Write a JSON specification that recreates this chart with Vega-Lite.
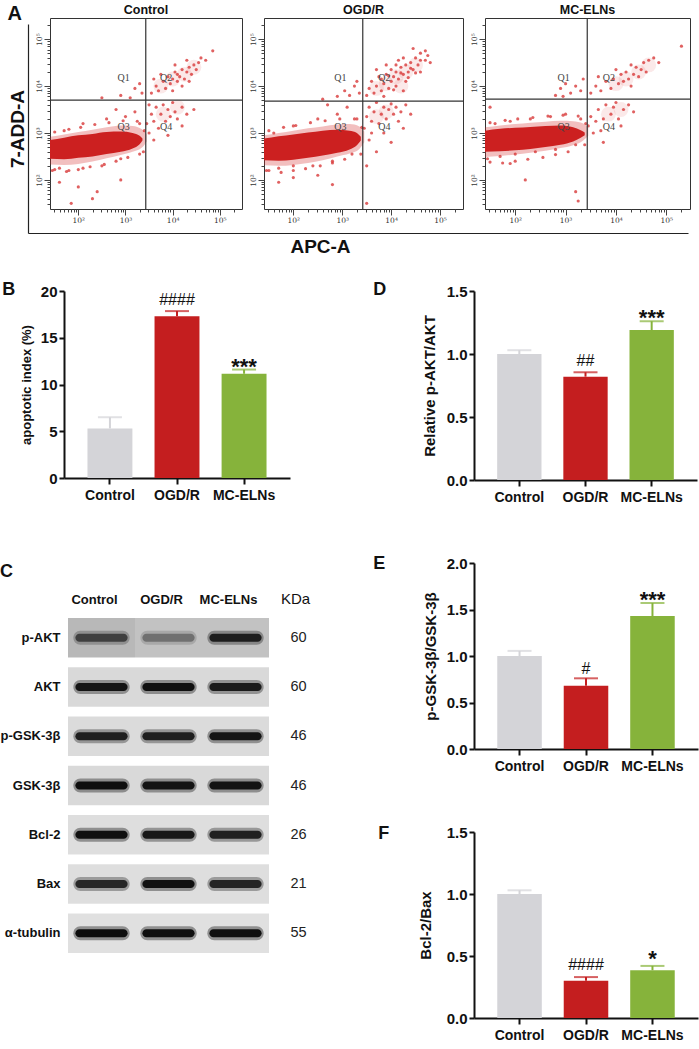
{
  "$schema": "https://vega.github.io/schema/vega-lite/v6.json",
  "background": "white",
  "padding": {"left": 0, "top": 3, "right": 0, "bottom": 0},
  "config": {
    "view": {"stroke": null},
    "font": "Liberation Sans",
    "axis": {"labelFont": "Liberation Sans", "titleFont": "Liberation Sans", "grid": false, "labelOverlap": false},
    "title": {"font": "Liberation Sans", "color": "#111"}
  },
  "datasets": {
    "env": [
      {"g": "Control", "band": "outer", "x": 1.4, "lo": 2.33, "hi": 2.92}, {"g": "Control", "band": "outer", "x": 1.7, "lo": 2.32, "hi": 2.97},
      {"g": "Control", "band": "outer", "x": 2.0, "lo": 2.34, "hi": 3.02}, {"g": "Control", "band": "outer", "x": 2.3, "lo": 2.39, "hi": 3.07},
      {"g": "Control", "band": "outer", "x": 2.6, "lo": 2.46, "hi": 3.12}, {"g": "Control", "band": "outer", "x": 2.9, "lo": 2.53, "hi": 3.16},
      {"g": "Control", "band": "outer", "x": 3.15, "lo": 2.6, "hi": 3.15}, {"g": "Control", "band": "outer", "x": 3.35, "lo": 2.69, "hi": 3.08},
      {"g": "Control", "band": "outer", "x": 3.45, "lo": 2.82, "hi": 2.98},
      {"g": "Control", "band": "inner", "x": 1.4, "lo": 2.45, "hi": 2.85}, {"g": "Control", "band": "inner", "x": 1.7, "lo": 2.44, "hi": 2.9},
      {"g": "Control", "band": "inner", "x": 2.0, "lo": 2.47, "hi": 2.95}, {"g": "Control", "band": "inner", "x": 2.3, "lo": 2.5, "hi": 2.98},
      {"g": "Control", "band": "inner", "x": 2.6, "lo": 2.55, "hi": 3.02}, {"g": "Control", "band": "inner", "x": 2.9, "lo": 2.6, "hi": 3.03},
      {"g": "Control", "band": "inner", "x": 3.15, "lo": 2.67, "hi": 3.0}, {"g": "Control", "band": "inner", "x": 3.3, "lo": 2.76, "hi": 2.94},
      {"g": "Control", "band": "inner", "x": 3.36, "lo": 2.84, "hi": 2.88},
      {"g": "OGD/R", "band": "outer", "x": 1.4, "lo": 2.31, "hi": 2.95}, {"g": "OGD/R", "band": "outer", "x": 1.7, "lo": 2.3, "hi": 3.0},
      {"g": "OGD/R", "band": "outer", "x": 2.0, "lo": 2.32, "hi": 3.05}, {"g": "OGD/R", "band": "outer", "x": 2.3, "lo": 2.36, "hi": 3.1},
      {"g": "OGD/R", "band": "outer", "x": 2.6, "lo": 2.42, "hi": 3.14}, {"g": "OGD/R", "band": "outer", "x": 2.9, "lo": 2.5, "hi": 3.18},
      {"g": "OGD/R", "band": "outer", "x": 3.15, "lo": 2.56, "hi": 3.19}, {"g": "OGD/R", "band": "outer", "x": 3.35, "lo": 2.66, "hi": 3.14},
      {"g": "OGD/R", "band": "outer", "x": 3.45, "lo": 2.8, "hi": 3.03},
      {"g": "OGD/R", "band": "inner", "x": 1.4, "lo": 2.42, "hi": 2.88}, {"g": "OGD/R", "band": "inner", "x": 1.7, "lo": 2.41, "hi": 2.93},
      {"g": "OGD/R", "band": "inner", "x": 2.0, "lo": 2.43, "hi": 2.97}, {"g": "OGD/R", "band": "inner", "x": 2.3, "lo": 2.47, "hi": 3.01},
      {"g": "OGD/R", "band": "inner", "x": 2.6, "lo": 2.52, "hi": 3.05}, {"g": "OGD/R", "band": "inner", "x": 2.9, "lo": 2.58, "hi": 3.07},
      {"g": "OGD/R", "band": "inner", "x": 3.15, "lo": 2.65, "hi": 3.05}, {"g": "OGD/R", "band": "inner", "x": 3.3, "lo": 2.74, "hi": 3.0},
      {"g": "OGD/R", "band": "inner", "x": 3.38, "lo": 2.84, "hi": 2.92},
      {"g": "MC-ELNs", "band": "outer", "x": 1.4, "lo": 2.49, "hi": 3.12}, {"g": "MC-ELNs", "band": "outer", "x": 1.7, "lo": 2.51, "hi": 3.16},
      {"g": "MC-ELNs", "band": "outer", "x": 2.0, "lo": 2.54, "hi": 3.19}, {"g": "MC-ELNs", "band": "outer", "x": 2.3, "lo": 2.58, "hi": 3.22},
      {"g": "MC-ELNs", "band": "outer", "x": 2.6, "lo": 2.62, "hi": 3.24}, {"g": "MC-ELNs", "band": "outer", "x": 2.9, "lo": 2.68, "hi": 3.26},
      {"g": "MC-ELNs", "band": "outer", "x": 3.15, "lo": 2.74, "hi": 3.25}, {"g": "MC-ELNs", "band": "outer", "x": 3.35, "lo": 2.84, "hi": 3.2},
      {"g": "MC-ELNs", "band": "outer", "x": 3.45, "lo": 2.94, "hi": 3.1},
      {"g": "MC-ELNs", "band": "inner", "x": 1.4, "lo": 2.6, "hi": 3.05}, {"g": "MC-ELNs", "band": "inner", "x": 1.7, "lo": 2.61, "hi": 3.09},
      {"g": "MC-ELNs", "band": "inner", "x": 2.0, "lo": 2.63, "hi": 3.11}, {"g": "MC-ELNs", "band": "inner", "x": 2.3, "lo": 2.66, "hi": 3.13},
      {"g": "MC-ELNs", "band": "inner", "x": 2.6, "lo": 2.7, "hi": 3.15}, {"g": "MC-ELNs", "band": "inner", "x": 2.9, "lo": 2.75, "hi": 3.16},
      {"g": "MC-ELNs", "band": "inner", "x": 3.15, "lo": 2.82, "hi": 3.12}, {"g": "MC-ELNs", "band": "inner", "x": 3.3, "lo": 2.9, "hi": 3.06},
      {"g": "MC-ELNs", "band": "inner", "x": 3.38, "lo": 2.95, "hi": 3.01}
    ],
    "halo": [
      {"g": "Control", "x": 4.0, "y": 4.15}, {"g": "Control", "x": 4.25, "y": 4.25}, {"g": "Control", "x": 4.45, "y": 4.4},
      {"g": "Control", "x": 3.8, "y": 3.4}, {"g": "Control", "x": 3.75, "y": 4.0}, {"g": "Control", "x": 4.1, "y": 3.55},
      {"g": "OGD/R", "x": 3.9, "y": 4.05}, {"g": "OGD/R", "x": 4.1, "y": 4.2}, {"g": "OGD/R", "x": 4.3, "y": 4.3},
      {"g": "OGD/R", "x": 4.5, "y": 4.45}, {"g": "OGD/R", "x": 4.2, "y": 4.0}, {"g": "OGD/R", "x": 3.7, "y": 3.35},
      {"g": "OGD/R", "x": 3.9, "y": 3.45}, {"g": "OGD/R", "x": 3.7, "y": 3.95},
      {"g": "MC-ELNs", "x": 4.2, "y": 4.15}, {"g": "MC-ELNs", "x": 4.45, "y": 4.3}, {"g": "MC-ELNs", "x": 4.0, "y": 4.05},
      {"g": "MC-ELNs", "x": 3.85, "y": 3.4}, {"g": "MC-ELNs", "x": 4.65, "y": 4.45}, {"g": "MC-ELNs", "x": 4.1, "y": 3.5}
    ],
    "dots": [
      {"g": "Control", "x": 3.55, "y": 3.85}, {"g": "Control", "x": 3.65, "y": 4.0}, {"g": "Control", "x": 3.7, "y": 3.9},
      {"g": "Control", "x": 3.8, "y": 4.1}, {"g": "Control", "x": 3.85, "y": 3.95}, {"g": "Control", "x": 3.9, "y": 4.2},
      {"g": "Control", "x": 3.95, "y": 4.05}, {"g": "Control", "x": 4.0, "y": 4.15}, {"g": "Control", "x": 4.05, "y": 4.3},
      {"g": "Control", "x": 4.1, "y": 4.1}, {"g": "Control", "x": 4.1, "y": 4.25}, {"g": "Control", "x": 4.15, "y": 4.2},
      {"g": "Control", "x": 4.2, "y": 4.35}, {"g": "Control", "x": 4.25, "y": 4.15}, {"g": "Control", "x": 4.3, "y": 4.3},
      {"g": "Control", "x": 4.35, "y": 4.4}, {"g": "Control", "x": 4.4, "y": 4.25}, {"g": "Control", "x": 4.45, "y": 4.45},
      {"g": "Control", "x": 4.5, "y": 4.35}, {"g": "Control", "x": 4.55, "y": 4.5}, {"g": "Control", "x": 4.6, "y": 4.6},
      {"g": "Control", "x": 4.7, "y": 4.55}, {"g": "Control", "x": 4.85, "y": 4.75}, {"g": "Control", "x": 3.6, "y": 4.15},
      {"g": "Control", "x": 3.75, "y": 4.25}, {"g": "Control", "x": 4.0, "y": 3.9}, {"g": "Control", "x": 4.2, "y": 4.0},
      {"g": "Control", "x": 4.35, "y": 4.1}, {"g": "Control", "x": 4.05, "y": 4.45}, {"g": "Control", "x": 4.3, "y": 4.55},
      {"g": "Control", "x": 3.45, "y": 3.2}, {"g": "Control", "x": 3.5, "y": 3.0}, {"g": "Control", "x": 3.55, "y": 3.4},
      {"g": "Control", "x": 3.6, "y": 3.25}, {"g": "Control", "x": 3.65, "y": 3.55}, {"g": "Control", "x": 3.7, "y": 3.1},
      {"g": "Control", "x": 3.75, "y": 3.4}, {"g": "Control", "x": 3.8, "y": 3.6}, {"g": "Control", "x": 3.85, "y": 3.25},
      {"g": "Control", "x": 3.9, "y": 3.5}, {"g": "Control", "x": 3.95, "y": 3.35}, {"g": "Control", "x": 4.0, "y": 3.65},
      {"g": "Control", "x": 4.05, "y": 3.45}, {"g": "Control", "x": 4.1, "y": 3.3}, {"g": "Control", "x": 4.2, "y": 3.55},
      {"g": "Control", "x": 4.3, "y": 3.4}, {"g": "Control", "x": 4.45, "y": 3.5}, {"g": "Control", "x": 3.6, "y": 2.85},
      {"g": "Control", "x": 3.9, "y": 2.95}, {"g": "Control", "x": 4.2, "y": 3.15}, {"g": "Control", "x": 3.5, "y": 3.6},
      {"g": "Control", "x": 2.9, "y": 3.8}, {"g": "Control", "x": 3.1, "y": 3.75}, {"g": "Control", "x": 3.2, "y": 3.95},
      {"g": "Control", "x": 3.35, "y": 3.85}, {"g": "Control", "x": 2.5, "y": 3.75}, {"g": "Control", "x": 3.3, "y": 4.05},
      {"g": "Control", "x": 1.45, "y": 2.2}, {"g": "Control", "x": 1.6, "y": 2.25}, {"g": "Control", "x": 1.8, "y": 2.2},
      {"g": "Control", "x": 2.1, "y": 2.25}, {"g": "Control", "x": 2.5, "y": 2.3}, {"g": "Control", "x": 2.9, "y": 2.45},
      {"g": "Control", "x": 3.3, "y": 2.55}, {"g": "Control", "x": 1.7, "y": 3.05}, {"g": "Control", "x": 2.1, "y": 3.2},
      {"g": "Control", "x": 2.6, "y": 3.3}, {"g": "Control", "x": 3.0, "y": 3.35}, {"g": "Control", "x": 3.2, "y": 3.45},
      {"g": "Control", "x": 2.8, "y": 3.5}, {"g": "Control", "x": 3.3, "y": 3.2},
      {"g": "Control", "x": 2.0, "y": 1.85}, {"g": "Control", "x": 2.9, "y": 2.0}, {"g": "Control", "x": 1.6, "y": 1.95},
      {"g": "Control", "x": 2.3, "y": 1.6}, {"g": "Control", "x": 1.85, "y": 1.5}, {"g": "Control", "x": 2.4, "y": 1.75},
      {"g": "Control", "x": 1.5, "y": 2.22}, {"g": "Control", "x": 1.75, "y": 2.18}, {"g": "Control", "x": 2.0, "y": 2.22},
      {"g": "Control", "x": 2.25, "y": 2.28}, {"g": "Control", "x": 2.55, "y": 2.33}, {"g": "Control", "x": 2.8, "y": 2.4},
      {"g": "Control", "x": 3.05, "y": 2.48}, {"g": "Control", "x": 1.5, "y": 3.02}, {"g": "Control", "x": 1.8, "y": 3.08},
      {"g": "Control", "x": 2.05, "y": 3.12}, {"g": "Control", "x": 2.35, "y": 3.18}, {"g": "Control", "x": 2.65, "y": 3.22},
      {"g": "Control", "x": 2.95, "y": 3.26}, {"g": "Control", "x": 3.25, "y": 3.25}, {"g": "Control", "x": 3.4, "y": 3.05},
      {"g": "Control", "x": 3.38, "y": 2.6},
      {"g": "OGD/R", "x": 3.5, "y": 3.8}, {"g": "OGD/R", "x": 3.55, "y": 3.95}, {"g": "OGD/R", "x": 3.6, "y": 4.1},
      {"g": "OGD/R", "x": 3.65, "y": 3.85}, {"g": "OGD/R", "x": 3.7, "y": 4.0}, {"g": "OGD/R", "x": 3.75, "y": 4.2},
      {"g": "OGD/R", "x": 3.8, "y": 3.9}, {"g": "OGD/R", "x": 3.85, "y": 4.05}, {"g": "OGD/R", "x": 3.9, "y": 4.25},
      {"g": "OGD/R", "x": 3.95, "y": 3.95}, {"g": "OGD/R", "x": 4.0, "y": 4.1}, {"g": "OGD/R", "x": 4.0, "y": 4.35},
      {"g": "OGD/R", "x": 4.05, "y": 4.2}, {"g": "OGD/R", "x": 4.1, "y": 4.0}, {"g": "OGD/R", "x": 4.1, "y": 4.3},
      {"g": "OGD/R", "x": 4.15, "y": 4.15}, {"g": "OGD/R", "x": 4.2, "y": 4.4}, {"g": "OGD/R", "x": 4.25, "y": 4.25},
      {"g": "OGD/R", "x": 4.3, "y": 4.1}, {"g": "OGD/R", "x": 4.3, "y": 4.45}, {"g": "OGD/R", "x": 4.35, "y": 4.3},
      {"g": "OGD/R", "x": 4.4, "y": 4.5}, {"g": "OGD/R", "x": 4.45, "y": 4.35}, {"g": "OGD/R", "x": 4.5, "y": 4.6},
      {"g": "OGD/R", "x": 4.55, "y": 4.45}, {"g": "OGD/R", "x": 4.6, "y": 4.7}, {"g": "OGD/R", "x": 4.7, "y": 4.55},
      {"g": "OGD/R", "x": 4.75, "y": 4.65}, {"g": "OGD/R", "x": 4.6, "y": 4.3}, {"g": "OGD/R", "x": 3.9, "y": 4.45},
      {"g": "OGD/R", "x": 4.15, "y": 4.55}, {"g": "OGD/R", "x": 4.45, "y": 4.8}, {"g": "OGD/R", "x": 3.7, "y": 4.35},
      {"g": "OGD/R", "x": 4.25, "y": 3.9}, {"g": "OGD/R", "x": 3.85, "y": 3.78},
      {"g": "OGD/R", "x": 3.95, "y": 4.22}, {"g": "OGD/R", "x": 4.05, "y": 3.92}, {"g": "OGD/R", "x": 4.2, "y": 4.28},
      {"g": "OGD/R", "x": 4.35, "y": 4.18}, {"g": "OGD/R", "x": 4.4, "y": 4.38}, {"g": "OGD/R", "x": 4.5, "y": 4.28},
      {"g": "OGD/R", "x": 4.6, "y": 4.55}, {"g": "OGD/R", "x": 4.25, "y": 4.6}, {"g": "OGD/R", "x": 4.1, "y": 4.45},
      {"g": "OGD/R", "x": 3.8, "y": 4.15}, {"g": "OGD/R", "x": 4.7, "y": 4.75}, {"g": "OGD/R", "x": 4.8, "y": 4.5},
      {"g": "OGD/R", "x": 3.45, "y": 3.1}, {"g": "OGD/R", "x": 3.5, "y": 3.35}, {"g": "OGD/R", "x": 3.55, "y": 3.55},
      {"g": "OGD/R", "x": 3.6, "y": 3.0}, {"g": "OGD/R", "x": 3.6, "y": 3.25}, {"g": "OGD/R", "x": 3.65, "y": 3.45},
      {"g": "OGD/R", "x": 3.7, "y": 3.65}, {"g": "OGD/R", "x": 3.75, "y": 3.2}, {"g": "OGD/R", "x": 3.8, "y": 3.4},
      {"g": "OGD/R", "x": 3.85, "y": 3.55}, {"g": "OGD/R", "x": 3.9, "y": 3.3}, {"g": "OGD/R", "x": 3.95, "y": 3.5},
      {"g": "OGD/R", "x": 4.0, "y": 3.62}, {"g": "OGD/R", "x": 4.05, "y": 3.4}, {"g": "OGD/R", "x": 4.1, "y": 3.55},
      {"g": "OGD/R", "x": 4.15, "y": 3.25}, {"g": "OGD/R", "x": 4.2, "y": 3.45}, {"g": "OGD/R", "x": 4.3, "y": 3.6},
      {"g": "OGD/R", "x": 4.4, "y": 3.4}, {"g": "OGD/R", "x": 3.55, "y": 2.85}, {"g": "OGD/R", "x": 3.85, "y": 3.0},
      {"g": "OGD/R", "x": 4.25, "y": 3.1}, {"g": "OGD/R", "x": 3.7, "y": 2.6}, {"g": "OGD/R", "x": 4.0, "y": 2.8},
      {"g": "OGD/R", "x": 3.5, "y": 2.3},
      {"g": "OGD/R", "x": 2.9, "y": 3.78}, {"g": "OGD/R", "x": 3.05, "y": 3.9}, {"g": "OGD/R", "x": 3.15, "y": 3.8},
      {"g": "OGD/R", "x": 3.25, "y": 4.0}, {"g": "OGD/R", "x": 3.35, "y": 3.85}, {"g": "OGD/R", "x": 2.6, "y": 3.72},
      {"g": "OGD/R", "x": 3.3, "y": 4.1},
      {"g": "OGD/R", "x": 1.45, "y": 2.2}, {"g": "OGD/R", "x": 1.7, "y": 2.25}, {"g": "OGD/R", "x": 2.0, "y": 2.3},
      {"g": "OGD/R", "x": 2.4, "y": 2.3}, {"g": "OGD/R", "x": 2.8, "y": 2.4}, {"g": "OGD/R", "x": 3.2, "y": 2.55},
      {"g": "OGD/R", "x": 1.6, "y": 3.0}, {"g": "OGD/R", "x": 2.0, "y": 3.15}, {"g": "OGD/R", "x": 2.5, "y": 3.3},
      {"g": "OGD/R", "x": 2.9, "y": 3.4}, {"g": "OGD/R", "x": 3.1, "y": 3.55}, {"g": "OGD/R", "x": 3.3, "y": 3.3},
      {"g": "OGD/R", "x": 2.7, "y": 3.6},
      {"g": "OGD/R", "x": 2.0, "y": 2.05}, {"g": "OGD/R", "x": 2.8, "y": 1.9}, {"g": "OGD/R", "x": 3.5, "y": 1.5},
      {"g": "OGD/R", "x": 1.7, "y": 1.95}, {"g": "OGD/R", "x": 2.5, "y": 2.1},
      {"g": "OGD/R", "x": 1.5, "y": 2.2}, {"g": "OGD/R", "x": 1.75, "y": 2.16}, {"g": "OGD/R", "x": 2.0, "y": 2.2},
      {"g": "OGD/R", "x": 2.25, "y": 2.24}, {"g": "OGD/R", "x": 2.55, "y": 2.3}, {"g": "OGD/R", "x": 2.8, "y": 2.36},
      {"g": "OGD/R", "x": 3.05, "y": 2.44}, {"g": "OGD/R", "x": 1.5, "y": 3.05}, {"g": "OGD/R", "x": 1.8, "y": 3.12},
      {"g": "OGD/R", "x": 2.05, "y": 3.16}, {"g": "OGD/R", "x": 2.35, "y": 3.22}, {"g": "OGD/R", "x": 2.65, "y": 3.26},
      {"g": "OGD/R", "x": 2.95, "y": 3.3}, {"g": "OGD/R", "x": 3.25, "y": 3.3}, {"g": "OGD/R", "x": 3.4, "y": 3.12},
      {"g": "OGD/R", "x": 3.38, "y": 2.55},
      {"g": "MC-ELNs", "x": 3.5, "y": 3.85}, {"g": "MC-ELNs", "x": 3.6, "y": 4.0}, {"g": "MC-ELNs", "x": 3.7, "y": 3.9},
      {"g": "MC-ELNs", "x": 3.8, "y": 4.1}, {"g": "MC-ELNs", "x": 3.9, "y": 3.95}, {"g": "MC-ELNs", "x": 3.95, "y": 4.15},
      {"g": "MC-ELNs", "x": 4.05, "y": 4.05}, {"g": "MC-ELNs", "x": 4.1, "y": 4.25}, {"g": "MC-ELNs", "x": 4.15, "y": 4.1},
      {"g": "MC-ELNs", "x": 4.2, "y": 4.3}, {"g": "MC-ELNs", "x": 4.25, "y": 4.15}, {"g": "MC-ELNs", "x": 4.3, "y": 4.0},
      {"g": "MC-ELNs", "x": 4.35, "y": 4.25}, {"g": "MC-ELNs", "x": 4.4, "y": 4.4}, {"g": "MC-ELNs", "x": 4.45, "y": 4.2},
      {"g": "MC-ELNs", "x": 4.5, "y": 4.35}, {"g": "MC-ELNs", "x": 4.55, "y": 4.5}, {"g": "MC-ELNs", "x": 4.6, "y": 4.3},
      {"g": "MC-ELNs", "x": 4.65, "y": 4.55}, {"g": "MC-ELNs", "x": 4.75, "y": 4.6}, {"g": "MC-ELNs", "x": 4.85, "y": 4.5},
      {"g": "MC-ELNs", "x": 4.0, "y": 4.35}, {"g": "MC-ELNs", "x": 4.3, "y": 4.45}, {"g": "MC-ELNs", "x": 3.65, "y": 4.2},
      {"g": "MC-ELNs", "x": 5.3, "y": 4.85},
      {"g": "MC-ELNs", "x": 3.45, "y": 3.15}, {"g": "MC-ELNs", "x": 3.5, "y": 3.35}, {"g": "MC-ELNs", "x": 3.6, "y": 3.25},
      {"g": "MC-ELNs", "x": 3.65, "y": 3.5}, {"g": "MC-ELNs", "x": 3.75, "y": 3.3}, {"g": "MC-ELNs", "x": 3.8, "y": 3.6},
      {"g": "MC-ELNs", "x": 3.9, "y": 3.4}, {"g": "MC-ELNs", "x": 3.95, "y": 3.55}, {"g": "MC-ELNs", "x": 4.0, "y": 3.65},
      {"g": "MC-ELNs", "x": 4.05, "y": 3.3}, {"g": "MC-ELNs", "x": 4.15, "y": 3.5}, {"g": "MC-ELNs", "x": 4.25, "y": 3.6},
      {"g": "MC-ELNs", "x": 4.35, "y": 3.45}, {"g": "MC-ELNs", "x": 3.55, "y": 3.0}, {"g": "MC-ELNs", "x": 3.7, "y": 3.05},
      {"g": "MC-ELNs", "x": 4.1, "y": 3.15}, {"g": "MC-ELNs", "x": 3.75, "y": 2.8},
      {"g": "MC-ELNs", "x": 2.8, "y": 3.8}, {"g": "MC-ELNs", "x": 2.9, "y": 3.95}, {"g": "MC-ELNs", "x": 3.0, "y": 4.05},
      {"g": "MC-ELNs", "x": 3.1, "y": 3.85}, {"g": "MC-ELNs", "x": 3.2, "y": 4.0}, {"g": "MC-ELNs", "x": 3.3, "y": 3.9},
      {"g": "MC-ELNs", "x": 3.35, "y": 4.15}, {"g": "MC-ELNs", "x": 2.95, "y": 3.78},
      {"g": "MC-ELNs", "x": 1.45, "y": 2.45}, {"g": "MC-ELNs", "x": 1.7, "y": 2.5}, {"g": "MC-ELNs", "x": 2.0, "y": 2.55},
      {"g": "MC-ELNs", "x": 2.4, "y": 2.6}, {"g": "MC-ELNs", "x": 2.8, "y": 2.65}, {"g": "MC-ELNs", "x": 3.2, "y": 2.75},
      {"g": "MC-ELNs", "x": 1.6, "y": 3.2}, {"g": "MC-ELNs", "x": 1.9, "y": 3.25}, {"g": "MC-ELNs", "x": 2.3, "y": 3.3},
      {"g": "MC-ELNs", "x": 2.7, "y": 3.35}, {"g": "MC-ELNs", "x": 3.0, "y": 3.4}, {"g": "MC-ELNs", "x": 3.3, "y": 3.3},
      {"g": "MC-ELNs", "x": 1.5, "y": 3.55},
      {"g": "MC-ELNs", "x": 2.2, "y": 2.0}, {"g": "MC-ELNs", "x": 3.2, "y": 1.75}, {"g": "MC-ELNs", "x": 1.9, "y": 2.35},
      {"g": "MC-ELNs", "x": 3.25, "y": 1.55},
      {"g": "MC-ELNs", "x": 1.5, "y": 2.38}, {"g": "MC-ELNs", "x": 1.75, "y": 2.36}, {"g": "MC-ELNs", "x": 2.0, "y": 2.4},
      {"g": "MC-ELNs", "x": 2.25, "y": 2.44}, {"g": "MC-ELNs", "x": 2.55, "y": 2.48}, {"g": "MC-ELNs", "x": 2.8, "y": 2.54},
      {"g": "MC-ELNs", "x": 3.05, "y": 2.6}, {"g": "MC-ELNs", "x": 1.5, "y": 3.22}, {"g": "MC-ELNs", "x": 1.8, "y": 3.27},
      {"g": "MC-ELNs", "x": 2.05, "y": 3.3}, {"g": "MC-ELNs", "x": 2.35, "y": 3.33}, {"g": "MC-ELNs", "x": 2.65, "y": 3.36},
      {"g": "MC-ELNs", "x": 2.95, "y": 3.38}, {"g": "MC-ELNs", "x": 3.25, "y": 3.36}, {"g": "MC-ELNs", "x": 3.4, "y": 3.2},
      {"g": "MC-ELNs", "x": 3.38, "y": 2.75}
    ],
    "gates": [
      {"g": "Control", "gx": 3.43, "gy": 3.7},
      {"g": "OGD/R", "gx": 3.42, "gy": 3.68},
      {"g": "MC-ELNs", "gx": 3.43, "gy": 3.72}
    ],
    "quads": [
      {"q": "Q1", "x": 2.96, "y": 4.17}, {"q": "Q2", "x": 3.86, "y": 4.17},
      {"q": "Q3", "x": 2.96, "y": 3.12}, {"q": "Q4", "x": 3.86, "y": 3.12}
    ],
    "blot": [
      {"protein": "p-AKT", "group": "Control", "density": 0.6, "bg": 0.28},
      {"protein": "p-AKT", "group": "OGD/R", "density": 0.35, "bg": 0.24},
      {"protein": "p-AKT", "group": "MC-ELNs", "density": 0.85, "bg": 0.24},
      {"protein": "AKT", "group": "Control", "density": 0.92, "bg": 0.15},
      {"protein": "AKT", "group": "OGD/R", "density": 0.95, "bg": 0.15},
      {"protein": "AKT", "group": "MC-ELNs", "density": 0.88, "bg": 0.15},
      {"protein": "p-GSK-3β", "group": "Control", "density": 0.85, "bg": 0.14},
      {"protein": "p-GSK-3β", "group": "OGD/R", "density": 0.85, "bg": 0.14},
      {"protein": "p-GSK-3β", "group": "MC-ELNs", "density": 0.92, "bg": 0.14},
      {"protein": "GSK-3β", "group": "Control", "density": 0.97, "bg": 0.15},
      {"protein": "GSK-3β", "group": "OGD/R", "density": 0.93, "bg": 0.15},
      {"protein": "GSK-3β", "group": "MC-ELNs", "density": 0.93, "bg": 0.15},
      {"protein": "Bcl-2", "group": "Control", "density": 0.95, "bg": 0.13},
      {"protein": "Bcl-2", "group": "OGD/R", "density": 0.9, "bg": 0.13},
      {"protein": "Bcl-2", "group": "MC-ELNs", "density": 0.85, "bg": 0.13},
      {"protein": "Bax", "group": "Control", "density": 0.8, "bg": 0.13},
      {"protein": "Bax", "group": "OGD/R", "density": 0.95, "bg": 0.13},
      {"protein": "Bax", "group": "MC-ELNs", "density": 0.82, "bg": 0.13},
      {"protein": "α-tubulin", "group": "Control", "density": 0.98, "bg": 0.12},
      {"protein": "α-tubulin", "group": "OGD/R", "density": 0.97, "bg": 0.12},
      {"protein": "α-tubulin", "group": "MC-ELNs", "density": 0.97, "bg": 0.12},
      {"protein": "p-AKT", "group": "KDa", "kda": "60"},
      {"protein": "AKT", "group": "KDa", "kda": "60"},
      {"protein": "p-GSK-3β", "group": "KDa", "kda": "46"},
      {"protein": "GSK-3β", "group": "KDa", "kda": "46"},
      {"protein": "Bcl-2", "group": "KDa", "kda": "26"},
      {"protein": "Bax", "group": "KDa", "kda": "21"},
      {"protein": "α-tubulin", "group": "KDa", "kda": "55"}
    ]
  },
  "vconcat": [
    {
      "title": {"text": "A", "anchor": "start", "frame": "bounds", "offset": -21, "fontSize": 20, "fontWeight": "bold"},
      "bounds": "flush",
      "spacing": 22,
      "hconcat": [
        {
          "width": 192,
          "height": 191,
          "view": {"stroke": "#333", "strokeWidth": 1},
          "title": {"text": "Control", "fontSize": 12.5, "fontWeight": "bold", "offset": 1},
          "layer": [
            {
              "layer": [
                {
                  "data": {"name": "env"},
                  "transform": [{"filter": "datum.g == 'Control' && datum.band == 'outer'"}],
                  "mark": {"type": "area", "interpolate": "monotone", "color": "#d42a2a", "opacity": 0.3, "clip": true},
                  "encoding": {
                    "x": {"field": "x", "type": "quantitative", "scale": {"domain": [1.4, 5.47], "nice": false, "zero": false},
                      "axis": {"title": null, "domain": false, "values": [2, 3, 4, 5], "labelOverlap": false,
                        "labelExpr": "datum.value == 2 ? '10²' : datum.value == 3 ? '10³' : datum.value == 4 ? '10⁴' : '10⁵'",
                        "labelFont": "DejaVu Serif", "labelFontSize": 7.5, "labelColor": "#333", "labelPadding": 1, "labelFlush": false,
                        "tickColor": "#444", "tickSize": 6}},
                    "y": {"field": "lo", "type": "quantitative", "scale": {"domain": [1.38, 5.45], "nice": false, "zero": false},
                      "axis": {"title": null, "domain": false, "values": [2, 3, 4, 5], "labelOverlap": false,
                        "labelExpr": "datum.value == 2 ? '10²' : datum.value == 3 ? '10³' : datum.value == 4 ? '10⁴' : '10⁵'",
                        "labelFont": "DejaVu Serif", "labelFontSize": 7.5, "labelColor": "#333", "labelPadding": 1, "labelFlush": false,
                        "labelAngle": -90, "labelAlign": "center", "labelBaseline": "bottom",
                        "tickColor": "#444", "tickSize": 6}},
                    "y2": {"field": "hi"}
                  }
                },
                {
                  "data": {"name": "env"},
                  "transform": [{"filter": "datum.g == 'Control' && datum.band == 'inner'"}],
                  "mark": {"type": "area", "interpolate": "monotone", "color": "#cc2020", "opacity": 1, "clip": true},
                  "encoding": {
                    "x": {"field": "x", "type": "quantitative"},
                    "y": {"field": "lo", "type": "quantitative"},
                    "y2": {"field": "hi"}
                  }
                },
                {
                  "data": {"name": "halo"},
                  "transform": [{"filter": "datum.g == 'Control'"}],
                  "mark": {"type": "circle", "size": 220, "opacity": 0.1, "color": "#d42a2a", "clip": true},
                  "encoding": {
                    "x": {"field": "x", "type": "quantitative"},
                    "y": {"field": "y", "type": "quantitative"}
                  }
                },
                {
                  "data": {"name": "dots"},
                  "transform": [{"filter": "datum.g == 'Control'"}],
                  "mark": {"type": "circle", "size": 10, "opacity": 0.75, "color": "#d62c2c", "clip": true},
                  "encoding": {
                    "x": {"field": "x", "type": "quantitative"},
                    "y": {"field": "y", "type": "quantitative"}
                  }
                },
                {
                  "data": {"name": "gates"},
                  "transform": [{"filter": "datum.g == 'Control'"}],
                  "mark": {"type": "rule", "color": "#333", "strokeWidth": 1.2},
                  "encoding": {"x": {"field": "gx", "type": "quantitative"}}
                },
                {
                  "data": {"name": "gates"},
                  "transform": [{"filter": "datum.g == 'Control'"}],
                  "mark": {"type": "rule", "color": "#333", "strokeWidth": 1.2},
                  "encoding": {"y": {"field": "gy", "type": "quantitative"}}
                },
                {
                  "data": {"name": "quads"},
                  "mark": {"type": "text", "font": "Liberation Serif", "fontSize": 10, "color": "#444"},
                  "encoding": {
                    "x": {"field": "x", "type": "quantitative"},
                    "y": {"field": "y", "type": "quantitative"},
                    "text": {"field": "q"}
                  }
                }
              ]
            },
            {
              "data": {"values": [{"f": 2}]},
              "mark": {"type": "point", "opacity": 0},
              "encoding": {
                "x": {"field": "f", "type": "quantitative", "scale": {"domain": [1.4, 5.47], "nice": false, "zero": false},
                  "axis": {"orient": "bottom", "title": null, "labels": false, "domain": false, "tickColor": "#444", "tickSize": 3,
                    "values": [1.477,1.602,1.699,1.778,1.845,1.903,1.954,2.301,2.477,2.602,2.699,2.778,2.845,2.903,2.954,3.301,3.477,3.602,3.699,3.778,3.845,3.903,3.954,4.301,4.477,4.602,4.699,4.778,4.845,4.903,4.954,5.301]}},
                "y": {"field": "f", "type": "quantitative", "scale": {"domain": [1.38, 5.45], "nice": false, "zero": false},
                  "axis": {"orient": "left", "title": null, "labels": false, "domain": false, "tickColor": "#444", "tickSize": 3,
                    "values": [1.477,1.602,1.699,1.778,1.845,1.903,1.954,2.301,2.477,2.602,2.699,2.778,2.845,2.903,2.954,3.301,3.477,3.602,3.699,3.778,3.845,3.903,3.954,4.301,4.477,4.602,4.699,4.778,4.845,4.903,4.954,5.301]}}
              }
            },
            {
              "data": {"values": [{"f": 0}]},
              "mark": {"type": "point", "opacity": 0},
              "encoding": {
                "x": {"field": "f", "type": "quantitative", "scale": {"domain": [0, 1], "range": [-22, 638]},
                  "axis": {"orient": "bottom", "offset": 24, "labels": false, "ticks": false, "grid": false, "domainColor": "#222", "domainWidth": 1.2,
                    "title": "APC-A", "titleX": 270, "titlePadding": 4, "titleFontSize": 19, "titleFontWeight": "bold", "titleColor": "#111"}},
                "y": {"field": "f", "type": "quantitative", "scale": {"domain": [0, 1], "range": [215, 6]},
                  "axis": {"orient": "left", "offset": 22, "labels": false, "ticks": false, "grid": false, "domainColor": "#222", "domainWidth": 1.2,
                    "title": "7-ADD-A", "titlePadding": 1, "titleFontSize": 19, "titleFontWeight": "bold", "titleColor": "#111"}}
              }
            }
          ],
          "resolve": {"scale": {"x": "independent", "y": "independent"}, "axis": {"x": "independent", "y": "independent"}}
        },
        {
          "width": 199,
          "height": 191,
          "view": {"stroke": "#333", "strokeWidth": 1},
          "title": {"text": "OGD/R", "fontSize": 12.5, "fontWeight": "bold", "offset": 1},
          "layer": [
            {
              "layer": [
                {
                  "data": {"name": "env"},
                  "transform": [{"filter": "datum.g == 'OGD/R' && datum.band == 'outer'"}],
                  "mark": {"type": "area", "interpolate": "monotone", "color": "#d42a2a", "opacity": 0.3, "clip": true},
                  "encoding": {
                    "x": {"field": "x", "type": "quantitative", "scale": {"domain": [1.4, 5.47], "nice": false, "zero": false},
                      "axis": {"title": null, "domain": false, "values": [2, 3, 4, 5], "labelOverlap": false,
                        "labelExpr": "datum.value == 2 ? '10²' : datum.value == 3 ? '10³' : datum.value == 4 ? '10⁴' : '10⁵'",
                        "labelFont": "DejaVu Serif", "labelFontSize": 7.5, "labelColor": "#333", "labelPadding": 1, "labelFlush": false,
                        "tickColor": "#444", "tickSize": 6}},
                    "y": {"field": "lo", "type": "quantitative", "scale": {"domain": [1.38, 5.45], "nice": false, "zero": false},
                      "axis": {"title": null, "domain": false, "values": [2, 3, 4, 5], "labelOverlap": false,
                        "labelExpr": "datum.value == 2 ? '10²' : datum.value == 3 ? '10³' : datum.value == 4 ? '10⁴' : '10⁵'",
                        "labelFont": "DejaVu Serif", "labelFontSize": 7.5, "labelColor": "#333", "labelPadding": 1, "labelFlush": false,
                        "labelAngle": -90, "labelAlign": "center", "labelBaseline": "bottom",
                        "tickColor": "#444", "tickSize": 6}},
                    "y2": {"field": "hi"}
                  }
                },
                {
                  "data": {"name": "env"},
                  "transform": [{"filter": "datum.g == 'OGD/R' && datum.band == 'inner'"}],
                  "mark": {"type": "area", "interpolate": "monotone", "color": "#cc2020", "opacity": 1, "clip": true},
                  "encoding": {
                    "x": {"field": "x", "type": "quantitative"},
                    "y": {"field": "lo", "type": "quantitative"},
                    "y2": {"field": "hi"}
                  }
                },
                {
                  "data": {"name": "halo"},
                  "transform": [{"filter": "datum.g == 'OGD/R'"}],
                  "mark": {"type": "circle", "size": 220, "opacity": 0.1, "color": "#d42a2a", "clip": true},
                  "encoding": {
                    "x": {"field": "x", "type": "quantitative"},
                    "y": {"field": "y", "type": "quantitative"}
                  }
                },
                {
                  "data": {"name": "dots"},
                  "transform": [{"filter": "datum.g == 'OGD/R'"}],
                  "mark": {"type": "circle", "size": 10, "opacity": 0.75, "color": "#d62c2c", "clip": true},
                  "encoding": {
                    "x": {"field": "x", "type": "quantitative"},
                    "y": {"field": "y", "type": "quantitative"}
                  }
                },
                {
                  "data": {"name": "gates"},
                  "transform": [{"filter": "datum.g == 'OGD/R'"}],
                  "mark": {"type": "rule", "color": "#333", "strokeWidth": 1.2},
                  "encoding": {"x": {"field": "gx", "type": "quantitative"}}
                },
                {
                  "data": {"name": "gates"},
                  "transform": [{"filter": "datum.g == 'OGD/R'"}],
                  "mark": {"type": "rule", "color": "#333", "strokeWidth": 1.2},
                  "encoding": {"y": {"field": "gy", "type": "quantitative"}}
                },
                {
                  "data": {"name": "quads"},
                  "mark": {"type": "text", "font": "Liberation Serif", "fontSize": 10, "color": "#444"},
                  "encoding": {
                    "x": {"field": "x", "type": "quantitative"},
                    "y": {"field": "y", "type": "quantitative"},
                    "text": {"field": "q"}
                  }
                }
              ]
            },
            {
              "data": {"values": [{"f": 2}]},
              "mark": {"type": "point", "opacity": 0},
              "encoding": {
                "x": {"field": "f", "type": "quantitative", "scale": {"domain": [1.4, 5.47], "nice": false, "zero": false},
                  "axis": {"orient": "bottom", "title": null, "labels": false, "domain": false, "tickColor": "#444", "tickSize": 3,
                    "values": [1.477,1.602,1.699,1.778,1.845,1.903,1.954,2.301,2.477,2.602,2.699,2.778,2.845,2.903,2.954,3.301,3.477,3.602,3.699,3.778,3.845,3.903,3.954,4.301,4.477,4.602,4.699,4.778,4.845,4.903,4.954,5.301]}},
                "y": {"field": "f", "type": "quantitative", "scale": {"domain": [1.38, 5.45], "nice": false, "zero": false},
                  "axis": {"orient": "left", "title": null, "labels": false, "domain": false, "tickColor": "#444", "tickSize": 3,
                    "values": [1.477,1.602,1.699,1.778,1.845,1.903,1.954,2.301,2.477,2.602,2.699,2.778,2.845,2.903,2.954,3.301,3.477,3.602,3.699,3.778,3.845,3.903,3.954,4.301,4.477,4.602,4.699,4.778,4.845,4.903,4.954,5.301]}}
              }
            }
          ],
          "resolve": {"scale": {"x": "independent", "y": "independent"}, "axis": {"x": "independent", "y": "independent"}}
        },
        {
          "width": 205,
          "height": 191,
          "view": {"stroke": "#333", "strokeWidth": 1},
          "title": {"text": "MC-ELNs", "fontSize": 12.5, "fontWeight": "bold", "offset": 1},
          "layer": [
            {
              "layer": [
                {
                  "data": {"name": "env"},
                  "transform": [{"filter": "datum.g == 'MC-ELNs' && datum.band == 'outer'"}],
                  "mark": {"type": "area", "interpolate": "monotone", "color": "#d42a2a", "opacity": 0.3, "clip": true},
                  "encoding": {
                    "x": {"field": "x", "type": "quantitative", "scale": {"domain": [1.4, 5.47], "nice": false, "zero": false},
                      "axis": {"title": null, "domain": false, "values": [2, 3, 4, 5], "labelOverlap": false,
                        "labelExpr": "datum.value == 2 ? '10²' : datum.value == 3 ? '10³' : datum.value == 4 ? '10⁴' : '10⁵'",
                        "labelFont": "DejaVu Serif", "labelFontSize": 7.5, "labelColor": "#333", "labelPadding": 1, "labelFlush": false,
                        "tickColor": "#444", "tickSize": 6}},
                    "y": {"field": "lo", "type": "quantitative", "scale": {"domain": [1.38, 5.45], "nice": false, "zero": false},
                      "axis": {"title": null, "domain": false, "values": [2, 3, 4, 5], "labelOverlap": false,
                        "labelExpr": "datum.value == 2 ? '10²' : datum.value == 3 ? '10³' : datum.value == 4 ? '10⁴' : '10⁵'",
                        "labelFont": "DejaVu Serif", "labelFontSize": 7.5, "labelColor": "#333", "labelPadding": 1, "labelFlush": false,
                        "labelAngle": -90, "labelAlign": "center", "labelBaseline": "bottom",
                        "tickColor": "#444", "tickSize": 6}},
                    "y2": {"field": "hi"}
                  }
                },
                {
                  "data": {"name": "env"},
                  "transform": [{"filter": "datum.g == 'MC-ELNs' && datum.band == 'inner'"}],
                  "mark": {"type": "area", "interpolate": "monotone", "color": "#cc2020", "opacity": 1, "clip": true},
                  "encoding": {
                    "x": {"field": "x", "type": "quantitative"},
                    "y": {"field": "lo", "type": "quantitative"},
                    "y2": {"field": "hi"}
                  }
                },
                {
                  "data": {"name": "halo"},
                  "transform": [{"filter": "datum.g == 'MC-ELNs'"}],
                  "mark": {"type": "circle", "size": 220, "opacity": 0.1, "color": "#d42a2a", "clip": true},
                  "encoding": {
                    "x": {"field": "x", "type": "quantitative"},
                    "y": {"field": "y", "type": "quantitative"}
                  }
                },
                {
                  "data": {"name": "dots"},
                  "transform": [{"filter": "datum.g == 'MC-ELNs'"}],
                  "mark": {"type": "circle", "size": 10, "opacity": 0.75, "color": "#d62c2c", "clip": true},
                  "encoding": {
                    "x": {"field": "x", "type": "quantitative"},
                    "y": {"field": "y", "type": "quantitative"}
                  }
                },
                {
                  "data": {"name": "gates"},
                  "transform": [{"filter": "datum.g == 'MC-ELNs'"}],
                  "mark": {"type": "rule", "color": "#333", "strokeWidth": 1.2},
                  "encoding": {"x": {"field": "gx", "type": "quantitative"}}
                },
                {
                  "data": {"name": "gates"},
                  "transform": [{"filter": "datum.g == 'MC-ELNs'"}],
                  "mark": {"type": "rule", "color": "#333", "strokeWidth": 1.2},
                  "encoding": {"y": {"field": "gy", "type": "quantitative"}}
                },
                {
                  "data": {"name": "quads"},
                  "mark": {"type": "text", "font": "Liberation Serif", "fontSize": 10, "color": "#444"},
                  "encoding": {
                    "x": {"field": "x", "type": "quantitative"},
                    "y": {"field": "y", "type": "quantitative"},
                    "text": {"field": "q"}
                  }
                }
              ]
            },
            {
              "data": {"values": [{"f": 2}]},
              "mark": {"type": "point", "opacity": 0},
              "encoding": {
                "x": {"field": "f", "type": "quantitative", "scale": {"domain": [1.4, 5.47], "nice": false, "zero": false},
                  "axis": {"orient": "bottom", "title": null, "labels": false, "domain": false, "tickColor": "#444", "tickSize": 3,
                    "values": [1.477,1.602,1.699,1.778,1.845,1.903,1.954,2.301,2.477,2.602,2.699,2.778,2.845,2.903,2.954,3.301,3.477,3.602,3.699,3.778,3.845,3.903,3.954,4.301,4.477,4.602,4.699,4.778,4.845,4.903,4.954,5.301]}},
                "y": {"field": "f", "type": "quantitative", "scale": {"domain": [1.38, 5.45], "nice": false, "zero": false},
                  "axis": {"orient": "left", "title": null, "labels": false, "domain": false, "tickColor": "#444", "tickSize": 3,
                    "values": [1.477,1.602,1.699,1.778,1.845,1.903,1.954,2.301,2.477,2.602,2.699,2.778,2.845,2.903,2.954,3.301,3.477,3.602,3.699,3.778,3.845,3.903,3.954,4.301,4.477,4.602,4.699,4.778,4.845,4.903,4.954,5.301]}}
              }
            }
          ],
          "resolve": {"scale": {"x": "independent", "y": "independent"}, "axis": {"x": "independent", "y": "independent"}}
        }
      ]
    },
    {
      "spacing": 37,
      "hconcat": [
        {
          "bounds": "flush",
          "spacing": 140,
          "vconcat": [
            {
              "width": 240,
              "height": 187,
              "title": {"text": "B", "anchor": "start", "frame": "bounds", "fontSize": 18, "fontWeight": "bold", "offset": -15, "dx": -18},
              "data": {"values": [
                {"group": "Control", "mean": 5.3, "hi": 6.5, "sig": ""},
                {"group": "OGD/R", "mean": 17.3, "hi": 17.85, "sig": "####"},
                {"group": "MC-ELNs", "mean": 11.15, "hi": 11.6, "sig": "***"}
              ]},
              "encoding": {
                "x": {"field": "group", "type": "nominal", "sort": null,
                  "scale": {"range": [14, 240], "paddingInner": 0.33, "paddingOuter": 0.35},
                  "axis": {"title": null, "labelAngle": 0, "labelFontSize": 14, "labelFontWeight": "bold", "labelColor": "#111", "labelPadding": 4,
                    "domainColor": "#111", "domainWidth": 2, "tickColor": "#111", "tickWidth": 2, "tickSize": 6}},
                "color": {"field": "group", "type": "nominal", "sort": null,
                  "scale": {"domain": ["Control", "OGD/R", "MC-ELNs"], "range": ["#d4d4d8", "#c41e1f", "#86b33b"]}, "legend": null}
              },
              "layer": [
                {
                  "mark": {"type": "bar"},
                  "encoding": {
                    "y": {"field": "mean", "type": "quantitative", "scale": {"domain": [0, 20], "nice": false},
                      "axis": {"title": "apoptotic index (%)", "titleFontSize": 13, "titleFontWeight": "bold", "titleColor": "#111", "titlePadding": 7,
                        "values": [0, 5, 10, 15, 20], "labelFontSize": 15, "labelFontWeight": "bold", "labelColor": "#111", "labelPadding": 2,
                        "domainColor": "#111", "domainWidth": 2, "tickColor": "#111", "tickWidth": 2, "tickSize": 5, "offset": -14}}
                  }
                },
                {
                  "mark": {"type": "rule", "strokeWidth": 2},
                  "encoding": {"y": {"field": "mean", "type": "quantitative"}, "y2": {"field": "hi"}}
                },
                {
                  "mark": {"type": "tick", "thickness": 2, "size": 24},
                  "encoding": {"y": {"field": "hi", "type": "quantitative"}}
                },
                {
                  "transform": [{"filter": "indexof(datum.sig, '#') >= 0"}],
                  "mark": {"type": "text", "fontSize": 16, "baseline": "alphabetic", "dy": -6},
                  "encoding": {"y": {"field": "hi", "type": "quantitative"}, "text": {"field": "sig"}, "color": {"value": "#111"}}
                },
                {
                  "transform": [{"filter": "indexof(datum.sig, '*') >= 0"}],
                  "mark": {"type": "text", "fontSize": 22, "fontWeight": "bold", "baseline": "alphabetic", "dy": 4},
                  "encoding": {"y": {"field": "hi", "type": "quantitative"}, "text": {"field": "sig"}, "color": {"value": "#111"}}
                }
              ]
            },
            {
              "width": 286,
              "height": 335,
              "title": {"text": "C", "anchor": "start", "frame": "bounds", "fontSize": 18, "fontWeight": "bold", "offset": 10},
              "data": {"name": "blot"},
              "encoding": {
                "x": {"field": "group", "type": "nominal",
                  "scale": {"domain": ["Control", "OGD/R", "MC-ELNs", "KDa"], "range": [18, 286], "paddingInner": 0, "paddingOuter": 0},
                  "axis": {"orient": "top", "title": null, "domain": false, "ticks": false, "labelAngle": 0, "labelPadding": 12, "labelOffset": -7, "labelColor": "#111",
                    "labelFontSize": {"condition": {"test": "datum.value == 'KDa'", "value": 15}, "value": 13},
                    "labelFontWeight": {"condition": {"test": "datum.value == 'KDa'", "value": "normal"}, "value": "bold"}}},
                "y": {"field": "protein", "type": "nominal",
                  "scale": {"domain": ["p-AKT", "AKT", "p-GSK-3β", "GSK-3β", "Bcl-2", "Bax", "α-tubulin"], "paddingInner": 0.2, "paddingOuter": 0},
                  "axis": {"title": null, "domain": false, "ticks": false, "offset": -18, "labelPadding": 8, "labelFontSize": 13, "labelFontWeight": "bold", "labelColor": "#111"}}
              },
              "layer": [
                {
                  "transform": [{"filter": "datum.group != 'KDa'"}],
                  "mark": {"type": "rect", "color": "#000"},
                  "encoding": {"opacity": {"field": "bg", "type": "quantitative", "scale": {"domain": [0, 1], "range": [0, 1]}, "legend": null}}
                },
                {
                  "transform": [{"filter": "datum.group != 'KDa'"}],
                  "mark": {"type": "rect", "color": "#111", "width": {"band": 0.84}, "height": 14, "cornerRadius": 7, "fillOpacity": 0.4},
                  "encoding": {"opacity": {"field": "density", "type": "quantitative", "scale": {"domain": [0, 1], "range": [0, 1]}, "legend": null}}
                },
                {
                  "transform": [{"filter": "datum.group != 'KDa'"}],
                  "mark": {"type": "rect", "color": "#0a0a0a", "width": {"band": 0.78}, "height": 8, "cornerRadius": 4},
                  "encoding": {"opacity": {"field": "density", "type": "quantitative", "scale": {"domain": [0, 1], "range": [0, 1]}, "legend": null}}
                },
                {
                  "transform": [{"filter": "datum.group == 'KDa'"}],
                  "mark": {"type": "text", "fontSize": 14.5, "color": "#222", "dx": -4},
                  "encoding": {"text": {"field": "kda"}}
                }
              ]
            }
          ]
        },
        {
          "bounds": "flush",
          "spacing": 83,
          "vconcat": [
            {
              "width": 223,
              "height": 189,
              "title": {"text": "D", "anchor": "start", "frame": "bounds", "fontSize": 18, "fontWeight": "bold", "offset": -15, "dx": -49},
              "data": {"values": [
                {"group": "Control", "mean": 1.0, "hi": 1.03, "sig": ""},
                {"group": "OGD/R", "mean": 0.82, "hi": 0.855, "sig": "##"},
                {"group": "MC-ELNs", "mean": 1.19, "hi": 1.26, "sig": "***"}
              ]},
              "encoding": {
                "x": {"field": "group", "type": "nominal", "sort": null,
                  "scale": {"paddingInner": 0.33, "paddingOuter": 0.35},
                  "axis": {"title": null, "labelAngle": 0, "labelFontSize": 14, "labelFontWeight": "bold", "labelColor": "#111", "labelPadding": 4,
                    "domainColor": "#111", "domainWidth": 2, "tickColor": "#111", "tickWidth": 2, "tickSize": 6}},
                "color": {"field": "group", "type": "nominal", "sort": null,
                  "scale": {"domain": ["Control", "OGD/R", "MC-ELNs"], "range": ["#d4d4d8", "#c41e1f", "#86b33b"]}, "legend": null}
              },
              "layer": [
                {
                  "mark": {"type": "bar"},
                  "encoding": {
                    "y": {"field": "mean", "type": "quantitative", "scale": {"domain": [0, 1.5], "nice": false},
                      "axis": {"title": "Relative p-AKT/AKT", "titleFontSize": 15, "titleFontWeight": "bold", "titleColor": "#111", "titlePadding": 9,
                        "values": [0, 0.5, 1, 1.5], "format": ".1f", "labelFontSize": 15, "labelFontWeight": "bold", "labelColor": "#111", "labelPadding": 2,
                        "domainColor": "#111", "domainWidth": 2, "tickColor": "#111", "tickWidth": 2, "tickSize": 5}}
                  }
                },
                {
                  "mark": {"type": "rule", "strokeWidth": 2},
                  "encoding": {"y": {"field": "mean", "type": "quantitative"}, "y2": {"field": "hi"}}
                },
                {
                  "mark": {"type": "tick", "thickness": 2, "size": 24},
                  "encoding": {"y": {"field": "hi", "type": "quantitative"}}
                },
                {
                  "transform": [{"filter": "indexof(datum.sig, '#') >= 0"}],
                  "mark": {"type": "text", "fontSize": 16, "baseline": "alphabetic", "dy": -6},
                  "encoding": {"y": {"field": "hi", "type": "quantitative"}, "text": {"field": "sig"}, "color": {"value": "#111"}}
                },
                {
                  "transform": [{"filter": "indexof(datum.sig, '*') >= 0"}],
                  "mark": {"type": "text", "fontSize": 22, "fontWeight": "bold", "baseline": "alphabetic", "dy": 4},
                  "encoding": {"y": {"field": "hi", "type": "quantitative"}, "text": {"field": "sig"}, "color": {"value": "#111"}}
                }
              ]
            },
            {
              "width": 224,
              "height": 186,
              "title": {"text": "E", "anchor": "start", "frame": "bounds", "fontSize": 18, "fontWeight": "bold", "offset": -17, "dx": -50},
              "data": {"values": [
                {"group": "Control", "mean": 1.0, "hi": 1.055, "sig": ""},
                {"group": "OGD/R", "mean": 0.68, "hi": 0.76, "sig": "#"},
                {"group": "MC-ELNs", "mean": 1.43, "hi": 1.57, "sig": "***"}
              ]},
              "encoding": {
                "x": {"field": "group", "type": "nominal", "sort": null,
                  "scale": {"paddingInner": 0.33, "paddingOuter": 0.35},
                  "axis": {"title": null, "labelAngle": 0, "labelFontSize": 14, "labelFontWeight": "bold", "labelColor": "#111", "labelPadding": 4,
                    "domainColor": "#111", "domainWidth": 2, "tickColor": "#111", "tickWidth": 2, "tickSize": 6}},
                "color": {"field": "group", "type": "nominal", "sort": null,
                  "scale": {"domain": ["Control", "OGD/R", "MC-ELNs"], "range": ["#d4d4d8", "#c41e1f", "#86b33b"]}, "legend": null}
              },
              "layer": [
                {
                  "mark": {"type": "bar"},
                  "encoding": {
                    "y": {"field": "mean", "type": "quantitative", "scale": {"domain": [0, 2], "nice": false},
                      "axis": {"title": "p-GSK-3β/GSK-3β", "titleFontSize": 15, "titleFontWeight": "bold", "titleColor": "#111", "titlePadding": 8,
                        "values": [0, 0.5, 1, 1.5, 2], "format": ".1f", "labelFontSize": 15, "labelFontWeight": "bold", "labelColor": "#111", "labelPadding": 2,
                        "domainColor": "#111", "domainWidth": 2, "tickColor": "#111", "tickWidth": 2, "tickSize": 5}}
                  }
                },
                {
                  "mark": {"type": "rule", "strokeWidth": 2},
                  "encoding": {"y": {"field": "mean", "type": "quantitative"}, "y2": {"field": "hi"}}
                },
                {
                  "mark": {"type": "tick", "thickness": 2, "size": 24},
                  "encoding": {"y": {"field": "hi", "type": "quantitative"}}
                },
                {
                  "transform": [{"filter": "indexof(datum.sig, '#') >= 0"}],
                  "mark": {"type": "text", "fontSize": 16, "baseline": "alphabetic", "dy": -4},
                  "encoding": {"y": {"field": "hi", "type": "quantitative"}, "text": {"field": "sig"}, "color": {"value": "#111"}}
                },
                {
                  "transform": [{"filter": "indexof(datum.sig, '*') >= 0"}],
                  "mark": {"type": "text", "fontSize": 22, "fontWeight": "bold", "baseline": "alphabetic", "dy": 4},
                  "encoding": {"y": {"field": "hi", "type": "quantitative"}, "text": {"field": "sig"}, "color": {"value": "#111"}}
                }
              ]
            },
            {
              "width": 224,
              "height": 186,
              "title": {"text": "F", "anchor": "start", "frame": "bounds", "fontSize": 18, "fontWeight": "bold", "offset": -18, "dx": -40},
              "data": {"values": [
                {"group": "Control", "mean": 1.0, "hi": 1.03, "sig": ""},
                {"group": "OGD/R", "mean": 0.3, "hi": 0.33, "sig": "####"},
                {"group": "MC-ELNs", "mean": 0.385, "hi": 0.42, "sig": "*"}
              ]},
              "encoding": {
                "x": {"field": "group", "type": "nominal", "sort": null,
                  "scale": {"paddingInner": 0.33, "paddingOuter": 0.35},
                  "axis": {"title": null, "labelAngle": 0, "labelFontSize": 14, "labelFontWeight": "bold", "labelColor": "#111", "labelPadding": 4,
                    "domainColor": "#111", "domainWidth": 2, "tickColor": "#111", "tickWidth": 2, "tickSize": 6}},
                "color": {"field": "group", "type": "nominal", "sort": null,
                  "scale": {"domain": ["Control", "OGD/R", "MC-ELNs"], "range": ["#d4d4d8", "#c41e1f", "#86b33b"]}, "legend": null}
              },
              "layer": [
                {
                  "mark": {"type": "bar"},
                  "encoding": {
                    "y": {"field": "mean", "type": "quantitative", "scale": {"domain": [0, 1.5], "nice": false},
                      "axis": {"title": "Bcl-2/Bax", "titleFontSize": 15, "titleFontWeight": "bold", "titleColor": "#111", "titlePadding": 13,
                        "values": [0, 0.5, 1, 1.5], "format": ".1f", "labelFontSize": 15, "labelFontWeight": "bold", "labelColor": "#111", "labelPadding": 2,
                        "domainColor": "#111", "domainWidth": 2, "tickColor": "#111", "tickWidth": 2, "tickSize": 5}}
                  }
                },
                {
                  "mark": {"type": "rule", "strokeWidth": 2},
                  "encoding": {"y": {"field": "mean", "type": "quantitative"}, "y2": {"field": "hi"}}
                },
                {
                  "mark": {"type": "tick", "thickness": 2, "size": 24},
                  "encoding": {"y": {"field": "hi", "type": "quantitative"}}
                },
                {
                  "transform": [{"filter": "indexof(datum.sig, '#') >= 0"}],
                  "mark": {"type": "text", "fontSize": 16, "baseline": "alphabetic", "dy": -7},
                  "encoding": {"y": {"field": "hi", "type": "quantitative"}, "text": {"field": "sig"}, "color": {"value": "#111"}}
                },
                {
                  "transform": [{"filter": "indexof(datum.sig, '*') >= 0"}],
                  "mark": {"type": "text", "fontSize": 22, "fontWeight": "bold", "baseline": "alphabetic", "dy": 0},
                  "encoding": {"y": {"field": "hi", "type": "quantitative"}, "text": {"field": "sig"}, "color": {"value": "#111"}}
                }
              ]
            }
          ]
        }
      ]
    }
  ],
  "spacing": 24
}
